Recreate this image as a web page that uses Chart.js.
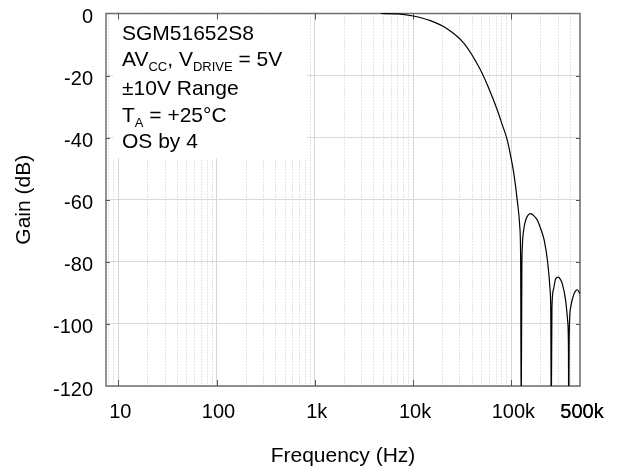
<!DOCTYPE html>
<html>
<head>
<meta charset="utf-8">
<script src="https://cdn.jsdelivr.net/npm/chart.js@4.4.1/dist/chart.umd.min.js"></script>
<style>
  html, body { margin: 0; padding: 0; background: #fff; }
  #wrap { width: 621px; height: 471px; position: relative; }
</style>
</head>
<body>
<div id="wrap"><canvas id="chart"></canvas></div>
<script>
// frequency response
const freqHz = [
  4700, 7000, 10000, 15000, 22000, 33000, 48600, 58800, 72000, 80000,
  91000, 100000, 106000, 115000, 122000, 124500, 126000, 128000, 129400, 134000,
  140000, 157000, 170000, 184000, 200000, 216000, 233000, 248000, 252000, 255000,
  259000, 268000, 283000, 301000, 315000, 330000, 357000, 374000, 381000, 384000,
  388000, 402000, 435000, 470000, 500000
];
const gainDb = [
  0, -0.1, -0.8, -2.3, -4.8, -9.6, -18.2, -24, -31.1, -35.4,
  -40.8, -47, -51.5, -60.2, -68.8, -80, -130, -82, -75.2, -69.5,
  -66.6, -64.5, -65.2, -66.6, -69.5, -73, -79.5, -89, -96, -130,
  -95, -89, -85.4, -84.9, -85.6, -87, -92.4, -98.9, -106, -130,
  -104, -94.6, -90.3, -89, -90.3
];

const decadeHz = [10, 100, 1000, 10000, 100000];
const xTickText = { 10: "10", 100: "100", 1000: "1k", 10000: "10k", 100000: "100k", 500000: "500k" };
const yTicks = [0, -20, -40, -60, -80, -100, -120];

const noteLines = [
  [{ t: "SGM51652S8" }],
  [{ t: "AV" }, { t: "CC", sub: true }, { t: ", V" }, { t: "DRIVE", sub: true }, { t: " = 5V" }],
  [{ t: "\u00b110V Range" }],
  [{ t: "T" }, { t: "A", sub: true }, { t: " = +25\u00b0C" }],
  [{ t: "OS by 4" }]
];

// minor grid positions 2..9 of every decade
const xGridHz = [8, 9];
decadeHz.forEach(d => {
  for (let m = 1; m <= 9; m++) {
    if (d * m <= 500000) xGridHz.push(d * m);
  }
});
xGridHz.push(500000);

const FONT = "'Liberation Sans', Arial, sans-serif";
Chart.defaults.font.family = FONT;
Chart.defaults.color = "#000";

function isDecade(v) {
  return decadeHz.includes(v);
}

const framePlugin = {
  id: "frame",
  beforeDatasetsDraw(chart) {
    const { ctx, chartArea: a, scales } = chart;
    ctx.save();

    // note box covering the grid
    ctx.fillStyle = "#fff";
    ctx.fillRect(a.left + 7, a.top + 1, 194, 144);

    ctx.fillStyle = "#000";
    ctx.textBaseline = "alphabetic";
    const baselines = [40, 66, 95, 122, 148];
    noteLines.forEach((runs, i) => {
      let x = 122;
      runs.forEach(r => {
        ctx.font = (r.sub ? "13px " : "21px ") + FONT;
        ctx.fillText(r.t, x, baselines[i] + (r.sub ? 5 : 0));
        x += ctx.measureText(r.t).width;
      });
    });

    // frame
    ctx.strokeStyle = "#6e6e6e";
    ctx.lineWidth = 1.5;
    ctx.strokeRect(a.left, a.top, a.right - a.left, a.bottom - a.top);

    // inward tick marks
    ctx.strokeStyle = "#555";
    ctx.lineWidth = 1;
    ctx.beginPath();
    decadeHz.forEach(v => {
      const px = Math.round(scales.x.getPixelForValue(v)) + 0.5;
      ctx.moveTo(px, a.bottom);
      ctx.lineTo(px, a.bottom - 6);
      ctx.moveTo(px, a.top);
      ctx.lineTo(px, a.top + 6);
    });
    yTicks.slice(1, -1).forEach(v => {
      const py = Math.round(scales.y.getPixelForValue(v)) + 0.5;
      ctx.moveTo(a.left, py);
      ctx.lineTo(a.left + 4, py);
      ctx.moveTo(a.right, py);
      ctx.lineTo(a.right - 4, py);
    });
    ctx.stroke();
    ctx.restore();
  }
};

new Chart(document.getElementById("chart"), {
  type: "line",
  data: {
    datasets: [{
      data: freqHz.map((f, i) => ({ x: f, y: gainDb[i] })),
      borderColor: "#000",
      borderWidth: 1.2,
      pointRadius: 0,
      cubicInterpolationMode: "monotone",
      fill: false,
      clip: { left: 0, top: 2, right: 0, bottom: 0 }
    }]
  },
  options: {
    responsive: true,
    maintainAspectRatio: false,
    animation: false,
    layout: { padding: { left: 0, top: 13.5, right: 41, bottom: 0 } },
    plugins: {
      legend: { display: false },
      tooltip: { enabled: false }
    },
    scales: {
      x: {
        type: "logarithmic",
        min: 7.5,
        max: 500000,
        afterBuildTicks: scale => {
          scale.ticks = xGridHz.map(v => ({ value: v }));
        },
        afterFit: scale => {
          scale.height = 85;
          scale.paddingLeft = 0;
          scale.paddingRight = 0;
        },
        ticks: {
          autoSkip: false,
          maxRotation: 0,
          padding: 14,
          labelOffset: 2,
          font: { size: 20 },
          callback: value => xTickText[value] || ""
        },
        grid: {
          drawTicks: false,
          color: ctx => (ctx.tick && isDecade(ctx.tick.value)) ? "#d6d6d6" : "#c8c8c8",
          lineWidth: 1
        },
        border: {
          display: false,
          dash: ctx => (ctx.tick && !isDecade(ctx.tick.value)) ? [1, 2] : []
        },
        title: {
          display: true,
          text: "Frequency (Hz)",
          font: { size: 21 },
          padding: { top: 0, bottom: 2 }
        }
      },
      y: {
        min: -120,
        max: 0,
        afterBuildTicks: scale => {
          scale.ticks = yTicks.map(v => ({ value: v }));
        },
        afterFit: scale => {
          scale.width = 106;
          scale.paddingTop = 0;
          scale.paddingBottom = 0;
        },
        ticks: {
          padding: 13,
          labelOffset: 4,
          font: { size: 20 }
        },
        grid: {
          drawTicks: false,
          color: "#d9d9d9",
          lineWidth: 1
        },
        border: { display: false },
        title: {
          display: true,
          text: "Gain (dB)",
          font: { size: 21 },
          padding: { top: 12, bottom: 0 }
        }
      }
    }
  },
  plugins: [framePlugin]
});
</script>
</body>
</html>
